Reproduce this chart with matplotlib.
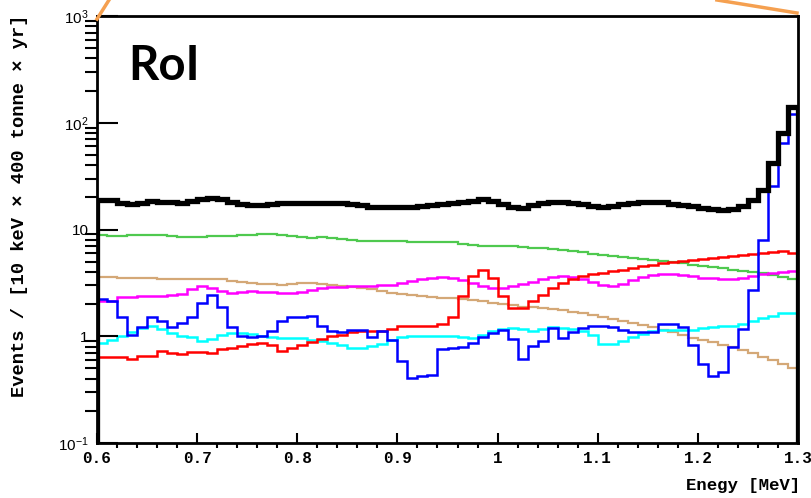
import matplotlib
matplotlib.use("Agg")
import matplotlib.pyplot as plt
import numpy as np
from matplotlib.lines import Line2D
from matplotlib.ticker import FixedLocator, FixedFormatter, MultipleLocator, NullFormatter

# energy binning: 10 keV bins from 0.6 to 1.3 MeV
e_min, e_max, n_bins = 0.6, 1.3, 70
edges = np.linspace(e_min, e_max, n_bins + 1)

total = [18.8, 19.0, 17.8, 17.4, 17.8, 18.4, 18.2, 18.0, 17.8, 18.4,
         19.4, 19.6, 19.2, 18.2, 17.4, 17.1, 17.1, 17.4, 17.7, 17.8,
         17.9, 17.8, 17.6, 17.6, 17.6, 17.4, 16.9, 16.3, 16.2, 16.2,
         16.2, 16.3, 16.5, 16.9, 17.2, 17.6, 18.0, 18.6, 19.2, 18.6,
         17.4, 16.4, 15.9, 16.9, 17.8, 18.2, 18.2, 17.8, 17.4, 16.7,
         16.3, 16.5, 17.2, 17.8, 18.0, 18.2, 18.0, 17.4, 16.9, 16.5,
         16.0, 15.5, 15.3, 15.6, 16.7, 19.0, 23.6, 41.9, 80.1, 140.0]

green = [8.84, 8.74, 8.74, 8.84, 8.93, 8.93, 8.84, 8.74, 8.55, 8.50,
         8.55, 8.65, 8.65, 8.74, 8.84, 8.93, 9.03, 9.12, 8.93, 8.74,
         8.46, 8.31, 8.46, 8.37, 8.19, 8.02, 7.85, 7.76, 7.79, 7.79,
         7.76, 7.68, 7.63, 7.60, 7.68, 7.60, 7.36, 7.20, 7.04, 6.99,
         6.97, 6.94, 6.85, 6.75, 6.67, 6.53, 6.39, 6.26, 6.12, 5.93,
         5.80, 5.68, 5.56, 5.44, 5.32, 5.21, 5.04, 4.93, 4.83, 4.68,
         4.58, 4.43, 4.34, 4.20, 4.11, 3.98, 3.89, 3.77, 3.61, 3.46]

tan = [3.61, 3.59, 3.55, 3.51, 3.50, 3.48, 3.46, 3.46, 3.46, 3.46,
       3.46, 3.46, 3.42, 3.31, 3.21, 3.14, 3.08, 3.06, 3.04, 3.07,
       3.14, 3.14, 3.10, 3.04, 2.97, 2.91, 2.85, 2.76, 2.67, 2.56,
       2.50, 2.45, 2.40, 2.34, 2.29, 2.27, 2.25, 2.20, 2.13, 2.06,
       1.99, 1.95, 1.90, 1.86, 1.82, 1.79, 1.75, 1.70, 1.64, 1.57,
       1.51, 1.44, 1.38, 1.32, 1.27, 1.21, 1.15, 1.09, 1.03, 0.968,
       0.927, 0.879, 0.833, 0.789, 0.739, 0.693, 0.643, 0.596, 0.553, 0.507]

magenta = [2.13, 2.16, 2.32, 2.34, 2.37, 2.38, 2.40, 2.42, 2.47, 2.76,
           2.93, 2.83, 2.67, 2.54, 2.58, 2.63, 2.58, 2.57, 2.54, 2.56,
           2.60, 2.69, 2.83, 2.88, 2.89, 2.93, 2.94, 2.97, 3.00, 3.04,
           3.17, 3.31, 3.43, 3.53, 3.59, 3.51, 3.35, 3.15, 2.94, 2.82,
           2.83, 2.97, 3.07, 3.24, 3.42, 3.57, 3.69, 3.61, 3.46, 3.24,
           3.04, 2.95, 3.10, 3.35, 3.61, 3.77, 3.83, 3.81, 3.74, 3.65,
           3.55, 3.50, 3.43, 3.43, 3.50, 3.65, 3.81, 3.93, 3.98, 4.06]

red = [0.639, 0.639, 0.639, 0.611, 0.652, 0.652, 0.720, 0.690, 0.686, 0.711,
       0.711, 0.693, 0.752, 0.769, 0.809, 0.851, 0.860, 0.824, 0.727, 0.780,
       0.824, 0.879, 0.937, 1.00, 1.03, 1.10, 1.13, 1.13, 1.13, 1.16,
       1.26, 1.24, 1.24, 1.25, 1.30, 1.51, 2.40, 3.63, 4.22, 3.51,
       2.36, 1.84, 1.84, 2.12, 2.45, 2.83, 3.17, 3.42, 3.63, 3.81,
       3.89, 4.06, 4.20, 4.35, 4.51, 4.68, 4.81, 4.93, 5.04, 5.15,
       5.26, 5.40, 5.56, 5.68, 5.80, 5.93, 6.06, 6.19, 6.23, 6.06]

cyan = [0.869, 0.927, 0.996, 1.09, 1.20, 1.24, 1.16, 1.08, 1.01, 0.983,
        0.904, 0.952, 1.03, 1.07, 1.07, 1.06, 1.01, 0.983, 0.962, 0.962,
        0.958, 0.927, 0.894, 0.869, 0.824, 0.775, 0.775, 0.806, 0.851, 0.917,
        0.989, 1.00, 1.00, 1.01, 1.00, 1.00, 0.989, 0.968, 1.02, 1.11,
        1.16, 1.19, 1.17, 1.11, 1.17, 1.21, 1.20, 1.18, 1.13, 1.03,
        0.851, 0.851, 0.908, 0.989, 1.04, 1.13, 1.15, 1.14, 1.14, 1.15,
        1.19, 1.22, 1.24, 1.24, 1.31, 1.40, 1.47, 1.56, 1.64, 1.64]

blue = [2.23, 2.15, 1.53, 1.03, 1.21, 1.52, 1.38, 1.23, 1.34, 1.52,
        2.06, 2.45, 1.87, 1.21, 1.01, 0.98, 1.01, 1.11, 1.38, 1.52,
        1.51, 1.54, 1.24, 1.11, 1.10, 1.14, 1.14, 0.99, 1.11, 0.93,
        0.59, 0.406, 0.422, 0.436, 0.764, 0.775, 0.797, 0.869, 0.98, 1.07,
        1.15, 0.947, 0.611, 0.815, 0.894, 1.19, 0.962, 1.09, 1.19, 1.25,
        1.25, 1.22, 1.15, 1.09, 1.10, 1.10, 1.31, 1.31, 1.22, 0.83,
        0.547, 0.427, 0.458, 0.789, 1.16, 2.69, 7.9, 25.7, 64.5, 121.0]

y_ticks = [0.1, 1, 10, 100, 1000]
y_tick_labels = [r"$\mathregular{10^{-1}}$", "1", "10",
                 r"$\mathregular{10^{2}}$", r"$\mathregular{10^{3}}$"]
x_ticks = [0.6, 0.7, 0.8, 0.9, 1.0, 1.1, 1.2, 1.3]
x_tick_labels = ["0.6", "0.7", "0.8", "0.9", "1", "1.1", "1.2", "1.3"]

mono = ["Liberation Mono", "DejaVu Sans Mono"]

fig = plt.figure(figsize=(8.11, 4.98), dpi=100)
ax = fig.add_axes([0.1196, 0.1104, 0.8644, 0.8575])

ax.stairs(tan, edges, color="#d4a877", lw=1.6)
ax.stairs(green, edges, color="#4fc94f", lw=1.6)
ax.stairs(cyan, edges, color="#00ffff", lw=1.8)
ax.stairs(magenta, edges, color="#ff00ff", lw=1.8)
ax.stairs(red, edges, color="#ff0000", lw=1.8)
ax.stairs(blue, edges, color="#0000ff", lw=1.8)
ax.stairs(total, edges, color="black", lw=3.8)

ax.set_yscale("log")
ax.set_xlim(e_min, e_max)
ax.set_ylim(0.1, 1000)

ax.yaxis.set_major_locator(FixedLocator(y_ticks))
ax.yaxis.set_major_formatter(FixedFormatter(y_tick_labels))
ax.yaxis.set_minor_formatter(NullFormatter())
ax.xaxis.set_major_locator(FixedLocator(x_ticks))
ax.xaxis.set_major_formatter(FixedFormatter(x_tick_labels))
ax.xaxis.set_minor_locator(MultipleLocator(0.02))

ax.tick_params(direction="in", top=False, right=False, width=1.5)
ax.tick_params(axis="x", which="major", length=7, pad=6)
ax.tick_params(axis="x", which="minor", length=3.6, width=1.5)
ax.tick_params(axis="y", which="major", length=15, pad=6)
ax.tick_params(axis="y", which="minor", length=8.5, width=1.5)
for lab in ax.get_xticklabels():
    lab.set_fontfamily(mono)
    lab.set_fontweight("bold")
    lab.set_fontsize(11.5)
for lab in ax.get_yticklabels():
    lab.set_fontfamily(["Liberation Sans", "DejaVu Sans"])
    lab.set_fontsize(11)
for sp in ax.spines.values():
    sp.set_linewidth(2)

ax.text(0.044, 0.85, "RoI", transform=ax.transAxes, fontsize=34,
        fontweight="bold", family=["Lato", "DejaVu Sans"], va="baseline")

fig.text(20 / 811, 0.970, "Events / [10 keV \u00d7 400 tonne \u00d7 yr]",
         rotation=90, ha="center", va="top", family=mono,
         fontweight="bold", fontsize=13.5)
fig.text(800 / 811, 13 / 498, "Enegy [MeV]", ha="right", va="center",
         family=mono, fontweight="bold", fontsize=12.5)

# orange zoom-callout lines leaving the frame corners
orange = "#f5a050"
fig.add_artist(Line2D([0.1196, 0.1344], [0.9618, 1.0], color=orange, lw=2.5,
                      transform=fig.transFigure))
fig.add_artist(Line2D([0.9827, 0.884], [0.9739, 1.0], color=orange, lw=2.5,
                      transform=fig.transFigure))

fig.savefig("out.png", dpi=100)
